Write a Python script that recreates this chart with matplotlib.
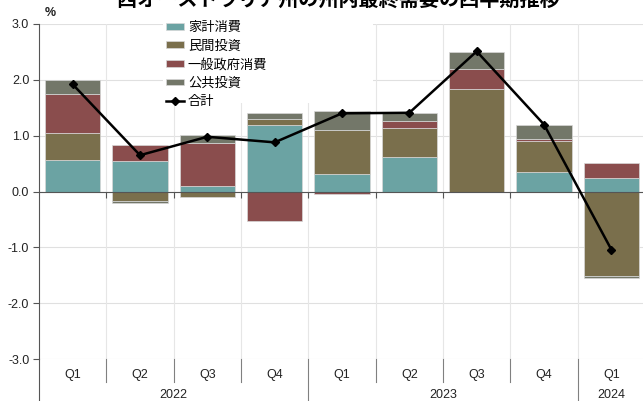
import numpy as np
import matplotlib
matplotlib.use("Agg")
import matplotlib.pyplot as plt
from matplotlib.patches import Patch, Rectangle
from matplotlib.lines import Line2D
import matplotlib.transforms as mtransforms

plt.rcParams["font.family"] = ["Liberation Sans", "Noto Sans CJK JP"]

# Data
# -----------------------------------------------------------------------------
quarters = ["Q1", "Q2", "Q3", "Q4", "Q1", "Q2", "Q3", "Q4", "Q1"]
years = ["2022", "2023", "2024"]
year_span = [4, 4, 1]  # quarters per year group

household = [0.56, 0.55, 0.10, 1.20, 0.31, 0.61, 0.00, 0.35, 0.24]   # 家計消費
private_inv = [0.49, -0.17, -0.09, 0.10, 0.79, 0.52, 1.83, 0.55, -1.51]  # 民間投資
gov_cons = [0.70, 0.29, 0.76, -0.52, -0.05, 0.13, 0.36, 0.04, 0.27]   # 一般政府消費
public_inv = [0.24, -0.03, 0.15, 0.11, 0.35, 0.15, 0.31, 0.26, -0.04]  # 公共投資
total = [1.92, 0.65, 0.98, 0.88, 1.40, 1.41, 2.51, 1.20, -1.04]      # 合計

series = [
    ("家計消費", household, "#6ba3a3"),
    ("民間投資", private_inv, "#7a6f4c"),
    ("一般政府消費", gov_cons, "#8a4d4d"),
    ("公共投資", public_inv, "#737769"),
]

# Figure
# -----------------------------------------------------------------------------
W, H = 643, 401
fig = plt.figure(figsize=(W / 100, H / 100), dpi=100)
ax = fig.add_axes([39 / W, (H - 359) / H, 606 / W, 335 / H])

x = np.arange(len(quarters))
pos_base = np.zeros(len(x))
neg_base = np.zeros(len(x))
for name, vals, col in series:
    v = np.array(vals)
    bottom = np.where(v >= 0, pos_base, neg_base)
    ax.bar(x, v, width=0.82, bottom=bottom, color=col, edgecolor="#d8d8d8",
           linewidth=0.5, zorder=2)
    pos_base += np.where(v >= 0, v, 0)
    neg_base += np.where(v < 0, v, 0)

ax.plot(x, total, color="black", linewidth=1.8, marker="D", markersize=4,
        zorder=4)

ax.set_xlim(-0.5, len(x) - 0.5)
ax.set_ylim(-3, 3)
yt = np.arange(-3, 3.1, 1.0)
ax.set_yticks(yt)
ax.set_yticklabels(["{:.1f}".format(v) for v in yt], fontsize=9, color="#222222")
ax.tick_params(axis="y", length=4, color="#555555", pad=3)

# gridlines
for v in yt:
    ax.axhline(v, color="#e0e0e0", linewidth=0.8, zorder=0)
for b in np.arange(0.5, len(x) - 0.5):
    ax.axvline(b, color="#e6e6e6", linewidth=0.8, zorder=0)

for s in ["top", "right"]:
    ax.spines[s].set_visible(False)
ax.spines["left"].set_color("#555555")
ax.spines["left"].set_linewidth(0.8)
ax.spines["bottom"].set_position(("data", 0))
ax.spines["bottom"].set_color("#555555")
ax.spines["bottom"].set_linewidth(0.8)
ax.spines["bottom"].set_zorder(3)
ax.set_xticks(np.arange(0.5, len(x) - 0.5))
ax.set_xticklabels([])
ax.tick_params(axis="x", length=4, color="#555555", direction="out")

# category table below the plot
trans = mtransforms.blended_transform_factory(ax.transData, ax.transAxes)
for i, q in enumerate(quarters):
    ax.text(i, -0.048, q, transform=trans, ha="center", va="center",
            fontsize=9, color="#222222")
year_edges = np.cumsum([0] + year_span) - 0.5
for j, yr in enumerate(years):
    mid = (year_edges[j] + year_edges[j + 1]) / 2
    ax.text(mid, -0.108, yr, transform=trans, ha="center", va="center",
            fontsize=9, color="#222222")
for b in np.arange(0.5, len(x) - 0.5):
    bottom_y = -0.14 if b in year_edges else -0.068
    ax.plot([b, b], [0, bottom_y], transform=trans, color="#808080",
            linewidth=0.8, clip_on=False)
ax.plot([-0.5, -0.5], [0, -0.14], transform=trans, color="#555555",
        linewidth=0.8, clip_on=False)

# unit label and title
fig.text(45 / W, 1 - 13 / H, "%", fontsize=9, fontweight="bold",
         ha="left", va="center", color="#222222")
fig.text(338 / W, 1.0, "西オーストラリア州の州内最終需要の四半期推移",
         fontsize=14.5, fontweight="bold", ha="center", va="center")

# legend (white box of fixed size behind it hides the gridlines)
ax.add_patch(Rectangle((163 / W, 1 - 103 / H), 210 / W, 83 / H,
                       transform=fig.transFigure, facecolor="white",
                       edgecolor="none", zorder=1.5))
handles = [Patch(facecolor=col, edgecolor="#d8d8d8", linewidth=0.5)
           for _, _, col in series]
handles.append(Line2D([], [], color="black", linewidth=1.8, marker="D",
                      markersize=4))
labels = [name for name, _, _ in series] + ["合計"]
leg = ax.legend(handles, labels, loc="upper left",
                bbox_to_anchor=(157 / W, 1 - 13 / H), bbox_transform=fig.transFigure,
                frameon=False, fontsize=9.5, handlelength=1.36, handleheight=0.4,
                handletextpad=0.28, labelspacing=0.46, borderpad=0.2)
leg.set_zorder(5)

fig.savefig("out.png", dpi=100)
